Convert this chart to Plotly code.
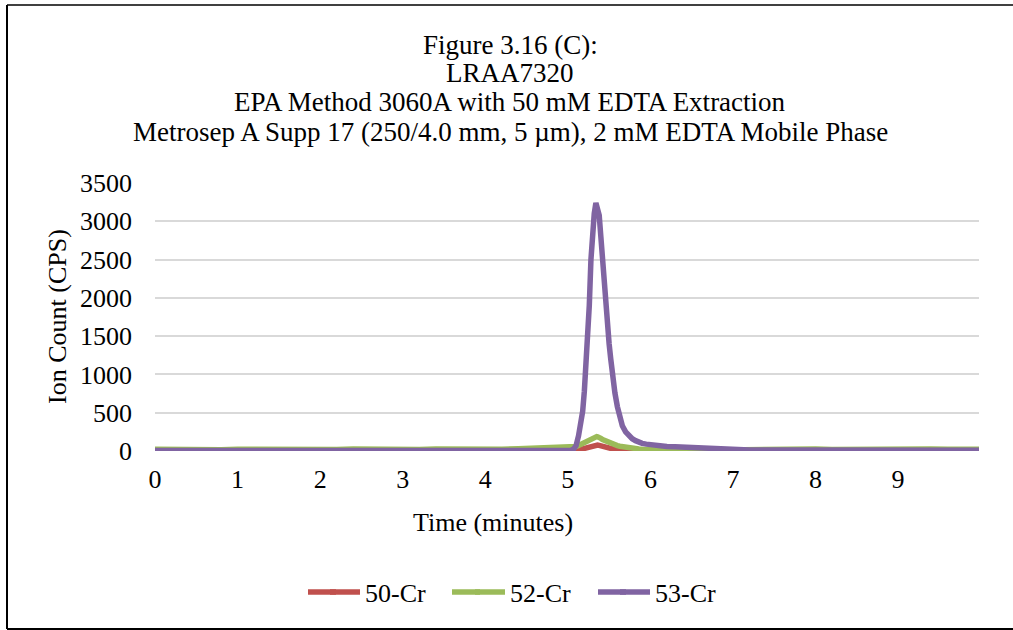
import plotly.graph_objects as go

# ---- data ----
time_min = [0.0, 0.2, 0.4, 0.6, 0.8, 1.0, 1.2, 1.4, 1.6, 1.8, 2.0, 2.2, 2.4, 2.6, 2.8,
            3.0, 3.2, 3.4, 3.6, 3.8, 4.0, 4.2, 4.4, 4.6, 4.8, 4.9, 5.0,
            5.04, 5.07, 5.10, 5.13, 5.16, 5.18, 5.20, 5.22, 5.24, 5.26, 5.28, 5.30,
            5.32, 5.34, 5.35, 5.36, 5.38, 5.40, 5.42, 5.44, 5.46, 5.48, 5.50, 5.52,
            5.54, 5.57, 5.60, 5.63, 5.66, 5.70, 5.74, 5.78, 5.82, 5.86, 5.90, 5.95,
            6.0, 6.1, 6.2, 6.3, 6.4, 6.5, 6.6, 6.7, 6.8, 6.9, 7.0,
            7.2, 7.4, 7.6, 7.8, 8.0, 8.2, 8.4, 8.6, 8.8, 9.0, 9.2, 9.4, 9.6, 9.8, 9.98]

cr50 = [3, 2, 4, 3, 2, 3, 4, 2, 3, 3, 2, 4, 3, 2, 3, 4, 3, 2, 3, 4, 3, 3, 4, 3, 4, 4, 4,
        5, 7, 10, 15, 22, 28, 35, 42, 50, 57, 65, 72,
        78, 82, 80, 78, 74, 66, 60, 54, 48, 43, 38, 34,
        30, 25, 20, 17, 14, 11, 9, 7, 6, 5, 4, 4,
        3, 3, 2, 3, 2, 3, 3, 2, 3, 2, 3,
        2, 3, 2, 3, 2, 2, 3, 2, 3, 2, 3, 2, 2, 3, 2]

cr52 = [22, 18, 25, 20, 17, 22, 19, 24, 21, 18, 23, 20, 26, 22, 19, 24, 21, 25, 22, 20,
        26, 24, 30, 38, 42, 40, 42,
        45, 50, 60, 72, 90, 100, 115, 128, 140, 150, 165, 175,
        185, 190, 188, 185, 180, 165, 150, 140, 125, 115, 110, 100,
        92, 80, 70, 62, 55, 48, 42, 36, 30, 26, 22, 18,
        15, 10, 7, 6, 8, 10, 12, 14, 16, 18, 20,
        24, 22, 26, 23, 25, 21, 24, 27, 22, 25, 23, 26, 22, 24, 23]

cr53 = [5, 4, 6, 5, 4, 5, 6, 4, 5, 5, 4, 6, 5, 4, 5, 6, 5, 4, 5, 6, 5, 5, 6, 5, 6, 6, 7,
        10, 25, 70, 200, 380, 520, 780, 1100, 1450, 1900, 2500, 2980,
        3100, 3240, 3200, 3120, 3080, 2800, 2480, 2200, 1900, 1620, 1400, 1200,
        1000, 760, 580, 440, 330, 250, 200, 160, 135, 115, 100, 90,
        82, 70, 60, 54, 48, 42, 37, 30, 24, 19, 16,
        14, 13, 14, 12, 13, 12, 12, 13, 11, 12, 12, 11, 12, 11, 11]

series_names = ["50-Cr", "52-Cr", "53-Cr"]
series_colors = ["#C0504D", "#9BBB59", "#8064A2"]
x_ticks = [0, 1, 2, 3, 4, 5, 6, 7, 8, 9]
y_ticks = [0, 500, 1000, 1500, 2000, 2500, 3000, 3500]

title_lines = ["Figure 3.16 (C):", "LRAA7320",
               "EPA Method 3060A with 50 mM EDTA Extraction",
               "Metrosep A Supp 17 (250/4.0 mm, 5 µm), 2 mM EDTA Mobile Phase"]

FONT = "Liberation Serif, Times New Roman, serif"

# ---- layout geometry (pixels) ----
W, H = 1013, 630
L, R, T, B = 155, 979, 183, 451
pw, ph = R - L, B - T


def px(x):
    return (x - L) / pw


def py(y):
    return (B - y) / ph


fig = go.Figure()
for name, vals, col in zip(series_names, [cr50, cr52, cr53], series_colors):
    fig.add_trace(go.Scatter(x=time_min, y=vals, mode="lines", name=name,
                             line=dict(color=col, width=5.5),
                             cliponaxis=False))

annotations = []
for txt, yc in zip(title_lines, [45, 73, 102, 132]):
    annotations.append(dict(text=txt, x=px(510), y=py(yc), xref="paper", yref="paper",
                            xanchor="center", yanchor="middle", showarrow=False,
                            font=dict(family=FONT, size=27, color="black")))
annotations.append(dict(text="Time (minutes)", x=px(493), y=py(522), xref="paper",
                        yref="paper", xanchor="center", yanchor="middle", showarrow=False,
                        font=dict(family=FONT, size=26, color="black")))
annotations.append(dict(text="Ion Count (CPS)", x=px(57), y=py(317), xref="paper",
                        yref="paper", xanchor="center", yanchor="middle", showarrow=False,
                        textangle=-90, font=dict(family=FONT, size=26, color="black")))

shapes = [
    dict(type="line", xref="paper", yref="paper", x0=px(7), x1=px(7), y0=py(5), y1=py(629),
         line=dict(color="black", width=2)),
    dict(type="line", xref="paper", yref="paper", x0=px(7), x1=px(1020), y0=py(5), y1=py(5),
         line=dict(color="black", width=1.5)),
    dict(type="line", xref="paper", yref="paper", x0=px(7), x1=px(1020), y0=py(629), y1=py(629),
         line=dict(color="black", width=2)),
]
# longer legend keys, as in the reference
for xs, col in zip([308, 452, 598], series_colors):
    shapes.append(dict(type="line", xref="paper", yref="paper", x0=px(xs), x1=px(xs + 28),
                       y0=py(592), y1=py(592), line=dict(color=col, width=5.5)))

fig.update_layout(
    width=W, height=H,
    margin=dict(l=L, r=W - R, t=T, b=H - B, autoexpand=False),
    paper_bgcolor="white", plot_bgcolor="white",
    font=dict(family=FONT, size=26, color="black"),
    showlegend=True,
    legend=dict(orientation="h", x=px(325), y=py(592), xanchor="left", yanchor="middle",
                font=dict(family=FONT, size=26, color="black"),
                entrywidth=100, entrywidthmode="pixels", bgcolor="rgba(0,0,0,0)"),
    annotations=annotations,
    shapes=shapes,
    xaxis=dict(range=[0, 9.98], tickvals=x_ticks, ticktext=[str(v) for v in x_ticks],
               showgrid=False, zeroline=False, showline=False, ticks="",
               ticklabelstandoff=10, tickfont=dict(family=FONT, size=26)),
    yaxis=dict(range=[0, 3500], tickvals=y_ticks, ticktext=[str(v) for v in y_ticks],
               showgrid=True, gridcolor="#D9D9D9", gridwidth=2, zeroline=False,
               showline=False, ticks="", ticklabelstandoff=22,
               tickfont=dict(family=FONT, size=26)),
)

fig.write_html("out.html", config={"displayModeBar": False},
               post_script="document.body.style.margin='0px';document.body.style.overflow='hidden';")
